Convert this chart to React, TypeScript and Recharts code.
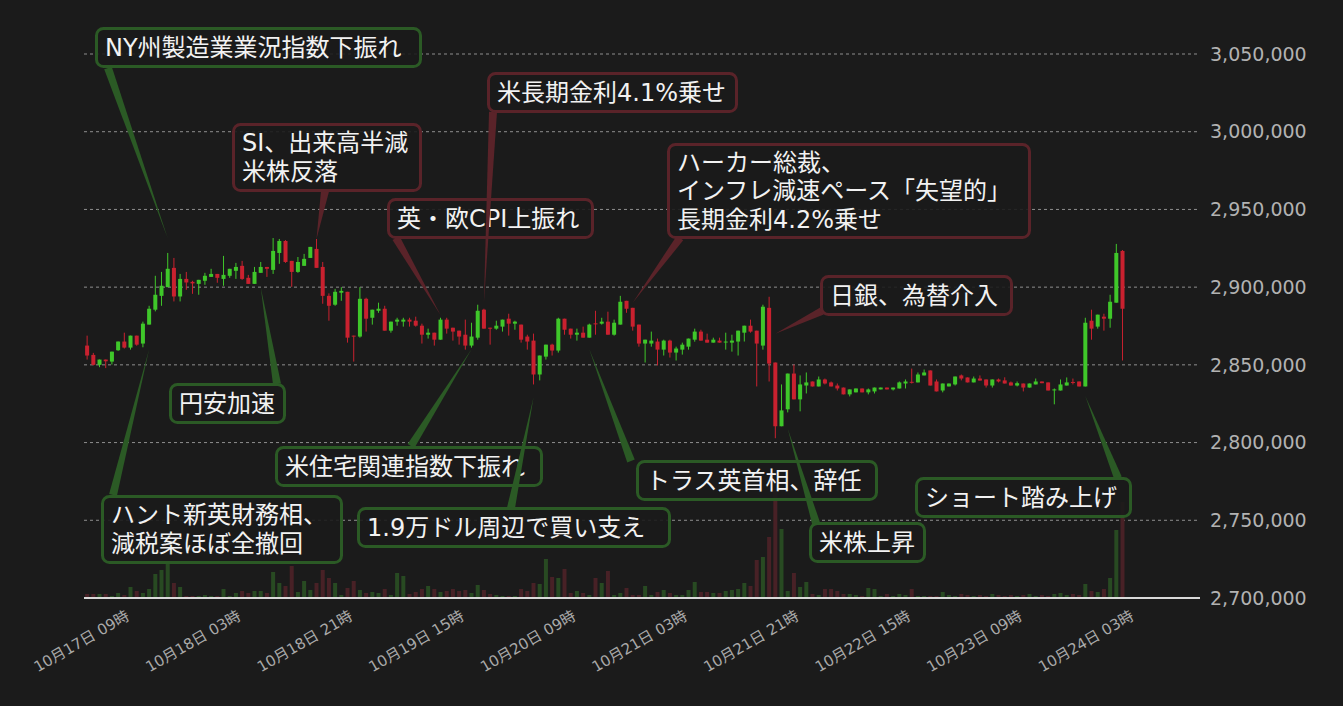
import React from 'react'
import {
  ComposedChart,
  Bar,
  XAxis,
  YAxis,
  CartesianGrid,
  ReferenceDot,
} from 'recharts'

// hourly BTC/JPY candles, first candle 10/17 02:00
const START_DAY = 17
const START_HOUR = 2
const SLOT_COUNT = 180

const OPEN = [
  2862400, 2856400, 2850000, 2853400, 2852100, 2859400, 2865000, 2861100, 2868800, 2863700,
  2875900, 2885500, 2894400, 2900000, 2912400, 2894000, 2905300, 2903400, 2902100, 2904100,
  2906600, 2908500, 2905300, 2907300, 2910500, 2913700, 2906000, 2902100, 2909200, 2913000,
  2911100, 2922000, 2929700, 2916900, 2909800, 2913700, 2918800, 2924600, 2913000, 2894400,
  2888700, 2896400, 2897000, 2868800, 2868200, 2892500, 2880300, 2884800, 2886100, 2872000,
  2877800, 2877800, 2879100, 2878400, 2875200, 2869400, 2870700, 2866200, 2879100, 2873900,
  2872000, 2869400, 2862400, 2867500, 2885500, 2873900, 2873300, 2874600, 2879700, 2876500,
  2875900, 2868200, 2865600, 2843800, 2855300, 2863000, 2859200, 2879700, 2873300, 2869400,
  2870700, 2867500, 2876700, 2876500, 2877800, 2869400, 2875900, 2891200, 2886700, 2875900,
  2863700, 2863700, 2865000, 2859800, 2865600, 2857900, 2859800, 2861700, 2866200, 2871400,
  2866200, 2864300, 2865600, 2864700, 2864300, 2865000, 2870700, 2875200, 2872000, 2862400,
  2886700, 2851500, 2810500, 2821400, 2844400, 2827800, 2836700, 2839300, 2836100, 2840600,
  2838700, 2836700, 2835400, 2831000, 2832300, 2834800, 2832300, 2832900, 2834200, 2835400,
  2834200, 2834800, 2838000, 2839100, 2838700, 2843200, 2846400, 2839300, 2833500, 2836100,
  2837400, 2843200, 2841900, 2838700, 2841200, 2840600, 2836700, 2840600, 2840000, 2838700,
  2836700, 2838000, 2835400, 2837400, 2839300, 2838700, 2834000, 2833500, 2836700, 2839000,
  2839300, 2836100, 2878400, 2874600, 2881000, 2879700, 2890000, 2923300,
]

const HIGH = [
  2868800, 2857700, 2853400, 2853400, 2858500, 2865000, 2870700, 2868800, 2868800, 2877800,
  2888000, 2907300, 2909800, 2922000, 2918800, 2908500, 2909800, 2904100, 2904700, 2909200,
  2911800, 2908500, 2920100, 2911800, 2915600, 2916900, 2907900, 2913000, 2916200, 2913000,
  2931600, 2931000, 2930300, 2916900, 2919400, 2921400, 2925900, 2931000, 2916200, 2896000,
  2898900, 2900000, 2897000, 2868800, 2900000, 2893200, 2885500, 2890000, 2888000, 2877800,
  2880300, 2880300, 2880300, 2881000, 2876500, 2873300, 2870700, 2880300, 2880300, 2873900,
  2872000, 2879100, 2877100, 2888700, 2886100, 2873900, 2878400, 2879100, 2882900, 2878400,
  2875900, 2869400, 2870100, 2856000, 2863000, 2863600, 2880300, 2879700, 2873300, 2873300,
  2874600, 2876500, 2884800, 2880300, 2884200, 2879100, 2894400, 2891200, 2886700, 2875900,
  2866200, 2871400, 2866900, 2866200, 2866200, 2861700, 2864300, 2866900, 2873300, 2872600,
  2870100, 2867500, 2867500, 2870700, 2869400, 2872000, 2875200, 2879100, 2872000, 2888700,
  2893800, 2851500, 2837400, 2844400, 2850200, 2843200, 2845100, 2839300, 2842500, 2841200,
  2839300, 2838000, 2835400, 2834200, 2834800, 2834800, 2834800, 2835400, 2835400, 2835400,
  2835400, 2839300, 2840600, 2847600, 2845100, 2847000, 2846400, 2840600, 2838000, 2838000,
  2842500, 2843800, 2841900, 2842500, 2843200, 2840600, 2840600, 2841200, 2842000, 2839300,
  2839300, 2838000, 2838000, 2841200, 2839300, 2838700, 2834800, 2840600, 2841900, 2841200,
  2839300, 2880300, 2885500, 2882300, 2882900, 2895100, 2927800, 2923900,
]

const LOW = [
  2853400, 2849600, 2848500, 2847900, 2850200, 2859000, 2860500, 2859800, 2862300, 2861300,
  2875900, 2884400, 2888000, 2900000, 2890800, 2890800, 2898300, 2895700, 2895100, 2901500,
  2906600, 2902800, 2900900, 2906000, 2905300, 2904700, 2902100, 2902100, 2909200, 2906600,
  2908500, 2915000, 2915600, 2900200, 2909200, 2913700, 2918800, 2912400, 2889300, 2878400,
  2888000, 2891200, 2864300, 2852100, 2867500, 2871400, 2875900, 2883500, 2872000, 2870700,
  2875200, 2874600, 2874600, 2874600, 2863700, 2866900, 2862400, 2866200, 2870100, 2865600,
  2863000, 2859800, 2861100, 2866200, 2873300, 2863000, 2872600, 2871400, 2868800, 2872600,
  2864300, 2859800, 2837400, 2840000, 2853400, 2856000, 2857900, 2869400, 2866900, 2865600,
  2867500, 2867500, 2869400, 2875900, 2869400, 2868800, 2875900, 2883500, 2872000, 2861700,
  2851500, 2861700, 2849600, 2856000, 2854700, 2852800, 2856600, 2859800, 2864900, 2865600,
  2864300, 2864300, 2864300, 2859800, 2858500, 2856000, 2865000, 2870700, 2836100, 2859800,
  2839300, 2802800, 2810500, 2819400, 2827800, 2820100, 2831600, 2836100, 2836100, 2837400,
  2836100, 2833500, 2831000, 2829700, 2832300, 2832300, 2831000, 2831600, 2834200, 2834200,
  2833500, 2834800, 2834800, 2838000, 2838700, 2843200, 2836700, 2832900, 2832300, 2836100,
  2836700, 2840000, 2838700, 2838700, 2839900, 2835400, 2835400, 2838700, 2838000, 2836700,
  2836100, 2832900, 2835400, 2837400, 2838200, 2833500, 2824600, 2833500, 2836700, 2837400,
  2836100, 2836100, 2866200, 2873300, 2872000, 2873900, 2890000, 2852800,
]

const CLOSE = [
  2856000, 2850000, 2853400, 2852300, 2858500, 2865000, 2861100, 2868800, 2863000, 2876500,
  2886100, 2895100, 2900900, 2911800, 2894000, 2905300, 2903000, 2902400, 2904700, 2907300,
  2908500, 2906000, 2907900, 2911800, 2913000, 2905300, 2902100, 2909800, 2913000, 2911800,
  2923300, 2929700, 2916200, 2909800, 2916200, 2918200, 2925900, 2912400, 2894400, 2888000,
  2897000, 2897600, 2867500, 2868400, 2892500, 2879700, 2885500, 2886100, 2872000, 2877800,
  2879100, 2879100, 2877800, 2875200, 2869400, 2870700, 2866200, 2879100, 2873300, 2871400,
  2868200, 2862400, 2868200, 2884800, 2873300, 2873300, 2875200, 2879100, 2876500, 2877800,
  2866200, 2865000, 2843800, 2856000, 2863000, 2859200, 2879700, 2872600, 2869400, 2870700,
  2867500, 2875900, 2876300, 2877800, 2869400, 2877100, 2890600, 2886100, 2874600, 2863700,
  2866200, 2865600, 2859800, 2865600, 2857900, 2860500, 2863000, 2866900, 2871400, 2865600,
  2864300, 2866200, 2864300, 2865000, 2865600, 2872000, 2875200, 2871400, 2863700, 2887400,
  2850800, 2810500, 2820700, 2844400, 2827800, 2837400, 2838700, 2836100, 2840600, 2838000,
  2836100, 2834800, 2831000, 2834200, 2834800, 2832300, 2834200, 2835400, 2835400, 2834200,
  2835400, 2838700, 2839300, 2838900, 2843800, 2845100, 2836700, 2832900, 2838000, 2838000,
  2842500, 2841200, 2838700, 2841200, 2839900, 2836700, 2840600, 2839300, 2838000, 2836700,
  2838200, 2835400, 2838000, 2839300, 2838200, 2833500, 2834200, 2837400, 2838700, 2838800,
  2836100, 2877100, 2873300, 2882300, 2879700, 2890600, 2922000, 2886100,
]

const VOLUME = [
  4, 4, 4, 4, 2, 5, 3, 11, 7, 5,
  9, 24, 28, 36, 15, 11, 2, 2, 2, 3,
  2, 2, 9, 2, 5, 7, 5, 7, 7, 5,
  26, 15, 12, 32, 6, 17, 8, 15, 28, 20,
  15, 3, 10, 17, 8, 5, 6, 5, 9, 3,
  25, 22, 4, 6, 9, 12, 9, 6, 7, 9,
  7, 8, 5, 13, 8, 4, 3, 2, 2, 2,
  9, 7, 15, 14, 39, 21, 20, 29, 5, 7,
  5, 3, 20, 15, 27, 3, 5, 10, 3, 3,
  12, 3, 6, 8, 5, 3, 3, 8, 16, 6,
  6, 5, 5, 7, 8, 9, 15, 12, 38, 41,
  61, 107, 69, 7, 25, 11, 16, 4, 3, 9,
  9, 7, 4, 4, 3, 2, 10, 9, 2, 4,
  2, 4, 3, 9, 2, 2, 2, 2, 6, 3,
  2, 4, 3, 2, 3, 2, 4, 3, 2, 3,
  2, 3, 4, 2, 3, 2, 4, 5, 3, 4,
  3, 14, 7, 6, 9, 20, 68, 96,
]

const PRICE_TICKS = [2700000, 2750000, 2800000, 2850000, 2900000, 2950000, 3000000, 3050000]

const DATE_TICKS = [
  '10月17日 09時', '10月18日 03時', '10月18日 21時', '10月19日 15時', '10月20日 09時',
  '10月21日 03時', '10月21日 21時', '10月22日 15時', '10月23日 09時', '10月24日 03時',
]

// annotations: text, candle time, price the pointer touches, tone
const NOTE_TEXT = [
  'NY州製造業業況指数下振れ',
  'SI、出来高半減\n米株反落',
  '英・欧CPI上振れ',
  '米長期金利4.1%乗せ',
  'ハーカー総裁、\nインフレ減速ペース「失望的」\n長期金利4.2%乗せ',
  '日銀、為替介入',
  '円安加速',
  'ハント新英財務相、\n減税案ほぼ全撤回',
  '米住宅関連指数下振れ',
  '1.9万ドル周辺で買い支え',
  'トラス英首相、辞任',
  '米株上昇',
  'ショート踏み上げ',
]
const NOTE_AT = [
  '10月17日 15時', '10月18日 15時', '10月19日 11時', '10月19日 18時', '10月20日 18時',
  '10月21日 17時', '10月18日 06時', '10月17日 12時', '10月19日 16時', '10月20日 02時',
  '10月20日 11時', '10月21日 19時', '10月23日 19時',
]
const NOTE_PRICE = [
  2931500, 2931000, 2882000, 2890000, 2890000, 2870000, 2900000,
  2860000, 2860000, 2829000, 2860000, 2809000, 2830000,
]
const NOTE_UP = [true, false, false, false, false, false, true, true, true, true, true, true, true]

// box [left, top, width, height] and pointer base [x, y], in page pixels
const NOTE_BOX = [
  [95, 27, 327, 41], [232, 123, 190, 69], [387, 198, 207, 41], [487, 72, 251, 41],
  [667, 143, 364, 96], [820, 275, 193, 41], [169, 383, 117, 41], [101, 495, 242, 69],
  [275, 446, 268, 41], [357, 507, 314, 41], [636, 460, 242, 41], [809, 522, 117, 41],
  [915, 477, 217, 41],
]
const NOTE_BASE = [
  [108, 68], [325, 191], [396, 238], [493, 112], [680, 238], [822, 311], [277, 384],
  [113, 495], [411, 446], [511, 508], [631, 461], [816, 523], [1118, 478],
]

const BG = '#1b1b1b'
const UP = '#3fc72a'
const DOWN = '#c9212f'
const VOL_UP = '#284a22'
const VOL_DOWN = '#482126'
const NOTE_GREEN = '#2b5a25'
const NOTE_RED = '#5a2329'
const FONT = "'DejaVu Sans', 'Noto Sans CJK JP', sans-serif"

function slotLabel(i: number) {
  const h = START_HOUR + i
  const day = START_DAY + Math.floor(h / 24)
  const hour = String(h % 24).padStart(2, '0')
  return `10月${day}日 ${hour}時`
}

const rows = Array.from({ length: SLOT_COUNT }, (_, i) => ({
  t: slotLabel(i),
  open: OPEN[i],
  high: HIGH[i],
  low: LOW[i],
  close: CLOSE[i],
  vol: VOLUME[i],
}))

function Candle(props: any) {
  const { x, y, width, height, payload } = props
  if (!payload || payload.open == null) return null
  const { open, close, high, low } = payload
  const cx = x + width / 2
  const top = Math.min(y, y + height)
  const h = Math.abs(height)
  const k = high > low ? h / (high - low) : 0
  const yOf = (v: number) => top + (high - v) * k
  const yo = yOf(open)
  const yc = yOf(close)
  const color = close >= open ? UP : DOWN
  const bodyTop = Math.min(yo, yc)
  const bodyH = Math.max(1, Math.abs(yo - yc))
  return (
    <g>
      <line x1={cx} x2={cx} y1={top} y2={top + h} stroke={color} strokeWidth={1} />
      <rect x={cx - 2} y={bodyTop} width={4} height={bodyH} fill={color} />
    </g>
  )
}

function VolumeBar(props: any) {
  const { x, y, width, height, payload } = props
  if (!payload || payload.vol == null) return null
  const cx = x + width / 2
  const color = payload.close >= payload.open ? VOL_UP : VOL_DOWN
  return <rect x={cx - 2} y={y} width={4} height={Math.max(0, height)} fill={color} />
}

function DateTick(props: any) {
  const { x, y, payload } = props
  const ty = y + 21
  return (
    <text
      x={x}
      y={ty}
      transform={`rotate(-30 ${x} ${ty})`}
      textAnchor="end"
      fill="#a9a9a9"
      fontSize={15}
      fontFamily={FONT}
    >
      {payload.value}
    </text>
  )
}

function noteShape(i: number) {
  return (props: any) => {
    const { cx, cy } = props
    const [bx, by, bw, bh] = NOTE_BOX[i]
    const [px, py] = NOTE_BASE[i]
    const color = NOTE_UP[i] ? NOTE_GREEN : NOTE_RED
    const dx = cx - px
    const dy = cy - py
    const len = Math.hypot(dx, dy) || 1
    const nx = (-dy / len) * 4
    const ny = (dx / len) * 4
    const lines = NOTE_TEXT[i].split('\n')
    const mid = by + bh / 2
    return (
      <g>
        <polygon
          points={`${px + nx},${py + ny} ${px - nx},${py - ny} ${cx},${cy}`}
          fill={color}
        />
        <rect
          x={bx + 1.5}
          y={by + 1.5}
          width={bw - 3}
          height={bh - 3}
          rx={7}
          fill="rgba(27,27,27,0.9)"
          stroke={color}
          strokeWidth={3}
        />
        {lines.map((line, j) => (
          <text
            key={j}
            x={bx + 10}
            y={mid + (j - (lines.length - 1) / 2) * 28.5}
            dominantBaseline="central"
            fill="#f2f2f2"
            fontSize={24}
            fontFamily={FONT}
          >
            {line}
          </text>
        ))}
      </g>
    )
  }
}

export default function App() {
  return (
    <div style={{ position: 'fixed', left: 0, top: 0, width: 1343, height: 706, background: BG }}>
      <ComposedChart
        width={1343}
        height={706}
        data={rows}
        margin={{ top: 54, right: 43, bottom: 48, left: 84 }}
      >
        <XAxis
          xAxisId="main"
          dataKey="t"
          ticks={DATE_TICKS}
          interval={0}
          tick={<DateTick />}
          tickLine={false}
          tickSize={0}
          tickMargin={0}
          axisLine={{ stroke: '#d9d9d9', strokeWidth: 2 }}
          height={60}
        />
        <XAxis xAxisId="vol" dataKey="t" hide />
        <YAxis
          yAxisId="price"
          orientation="right"
          domain={[2700000, 3050000]}
          ticks={PRICE_TICKS}
          tickFormatter={(v: number) => v.toLocaleString('en-US')}
          axisLine={false}
          tickLine={false}
          tickSize={0}
          tickMargin={10}
          width={100}
          tick={{ fill: '#b2b2b2', fontSize: 19, fontFamily: FONT }}
        />
        <YAxis yAxisId="vol" domain={[0, 544]} hide />
        <CartesianGrid
          xAxisId="main"
          yAxisId="price"
          vertical={false}
          stroke="#8e8e8e"
          strokeDasharray="3 3"
        />
        <Bar
          xAxisId="vol"
          yAxisId="vol"
          dataKey="vol"
          shape={<VolumeBar />}
          isAnimationActive={false}
        />
        <Bar
          xAxisId="main"
          yAxisId="price"
          dataKey={(d: any) => (d.open == null ? null : [d.low, d.high])}
          shape={<Candle />}
          isAnimationActive={false}
        />
        {NOTE_TEXT.map((_, i) => (
          <ReferenceDot
            key={i}
            xAxisId="main"
            yAxisId="price"
            x={NOTE_AT[i]}
            y={NOTE_PRICE[i]}
            r={0}
            shape={noteShape(i)}
          />
        ))}
      </ComposedChart>
    </div>
  )
}
